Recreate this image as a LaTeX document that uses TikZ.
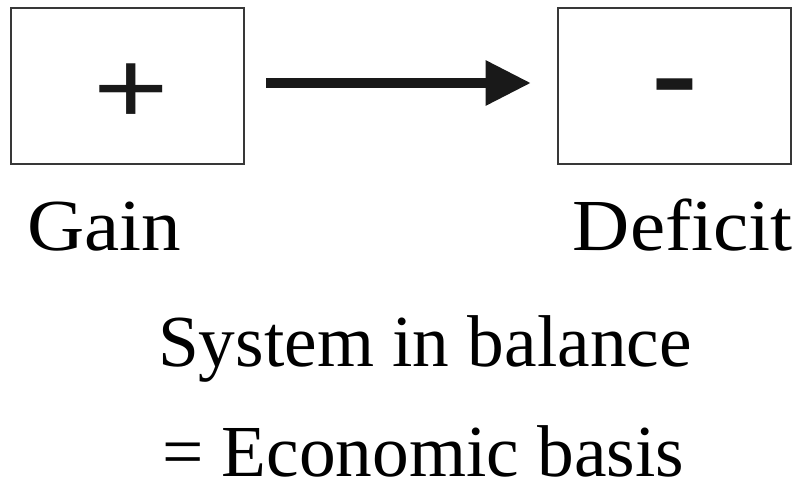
\documentclass[tikz,border=0pt]{standalone}
\usepackage{fontspec}
\setmainfont{Liberation Serif}
\newfontfamily\widefont[FakeStretch=1.08]{Liberation Serif}
\newfontfamily\signfont{Liberation Sans}
\usetikzlibrary{arrows.meta,positioning,calc}

\begin{document}
\begin{tikzpicture}[
  x=0.75pt, y=-0.75pt,
  box/.style={
    draw=black!78,
    line width=1.5pt,
    minimum width=174.75pt,
    minimum height=116.25pt,
    inner sep=0pt
  },
  sign/.style={font=\signfont\fontsize{97}{97}\selectfont, inner sep=0pt, text=black!90},
  lbl/.style={font=\fontsize{55}{60}\selectfont, inner sep=0pt},
  arr/.style={-{Triangle[length=34pt,width=32pt]}, line width=7.5pt, black!90}
]
\useasboundingbox (0,0) rectangle (800,485);

\node[box] (gain) at (127.5,86) {};
\node[box, right=234pt of gain] (deficit) {};

\node[sign, anchor=base] (plus) at ($(gain.center)+(4,37)$) {\scalebox{1}[0.8]{+}};
\node[sign, anchor=base, font=\signfont\fontsize{110}{110}\selectfont] (minus) at ($(deficit.center)+(0,37)$) {-};

\node[lbl, anchor=base west, font=\widefont\fontsize{55}{60}\selectfont] (gaintxt) at ($(gain.south west)+(17,86)$) {Gain};
\node[lbl, anchor=base east, font=\widefont\fontsize{55}{60}\selectfont] (defictxt) at ($(deficit.south east)+(1,86)$) {Deficit};
\node[lbl, anchor=base] (balance) at (425,366) {System in balance};
\node[lbl, anchor=base] (basis) at (423,476) {= Economic basis};

\draw[arr, shorten <=15.75pt, shorten >=19.5pt] ([yshift=2.25pt]gain.east) -- ([yshift=2.25pt]deficit.west);

\end{tikzpicture}
\end{document}
